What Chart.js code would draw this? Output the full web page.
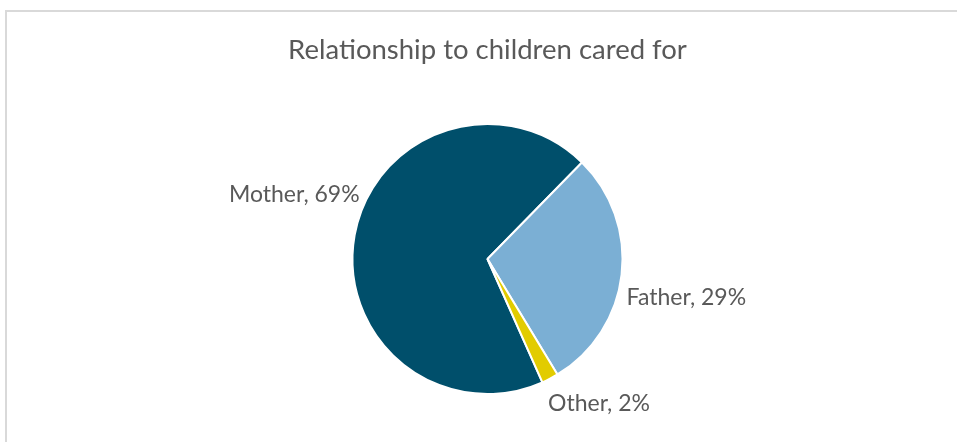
<!DOCTYPE html>
<html>
<head>
<meta charset="utf-8">
<script src="https://cdn.jsdelivr.net/npm/chart.js@4.4.1/dist/chart.umd.min.js"></script>
<style>
  html, body { margin: 0; padding: 0; background: #fff; overflow: hidden; }
  body { width: 957px; height: 442px; position: relative; }
  /* chart frame, runs off the right and bottom edges */
  .frame {
    position: absolute; left: 5px; top: 10px;
    width: 1000px; height: 500px;
    border: 2px solid #d9d9d9; box-sizing: border-box;
  }
  #chart { position: absolute; left: 0; top: 0; }
</style>
</head>
<body>
<div class="frame"></div>
<canvas id="chart" width="957" height="442"></canvas>
<script>
const categories = ["Mother", "Father", "Other"];
const shares = [69, 29, 2];
const sliceColors = ["#004f6b", "#7bafd4", "#e2cc00"];

// where each data label sits relative to the outer edge of its slice
const labelNudge = [[5, -41], [5, 23], [-2, 25]];

const sliceLabels = {
  id: "sliceLabels",
  afterDatasetsDraw(chart) {
    const ctx = chart.ctx;
    const arcs = chart.getDatasetMeta(0).data;
    ctx.save();
    ctx.font = "23px Lato";
    ctx.fillStyle = "#595959";
    ctx.textBaseline = "middle";
    arcs.forEach((arc, i) => {
      const mid = (arc.startAngle + arc.endAngle) / 2;
      const ex = arc.x + Math.cos(mid) * arc.outerRadius;
      const ey = arc.y + Math.sin(mid) * arc.outerRadius;
      ctx.textAlign = Math.cos(mid) >= 0 ? "left" : "right";
      const text = categories[i] + ", " + shares[i] + "%";
      ctx.fillText(text, ex + labelNudge[i][0], ey + labelNudge[i][1]);
    });
    ctx.restore();
  }
};

new Chart(document.getElementById("chart"), {
  type: "pie",
  data: {
    labels: categories,
    datasets: [{
      data: shares,
      backgroundColor: sliceColors,
      borderColor: "#ffffff",
      borderWidth: 2,
      hoverOffset: 0
    }]
  },
  options: {
    responsive: false,
    animation: false,
    rotation: 156,
    layout: { padding: { left: 18, right: 0, top: 34, bottom: 47 } },
    plugins: {
      legend: { display: false },
      tooltip: { enabled: false },
      title: {
        display: true,
        text: "Relationship to children cared for",
        color: "#595959",
        font: { family: "Lato", size: 27.5, weight: "normal" },
        padding: { top: 0, bottom: 56 }
      }
    }
  },
  plugins: [sliceLabels]
});
</script>
</body>
</html>
